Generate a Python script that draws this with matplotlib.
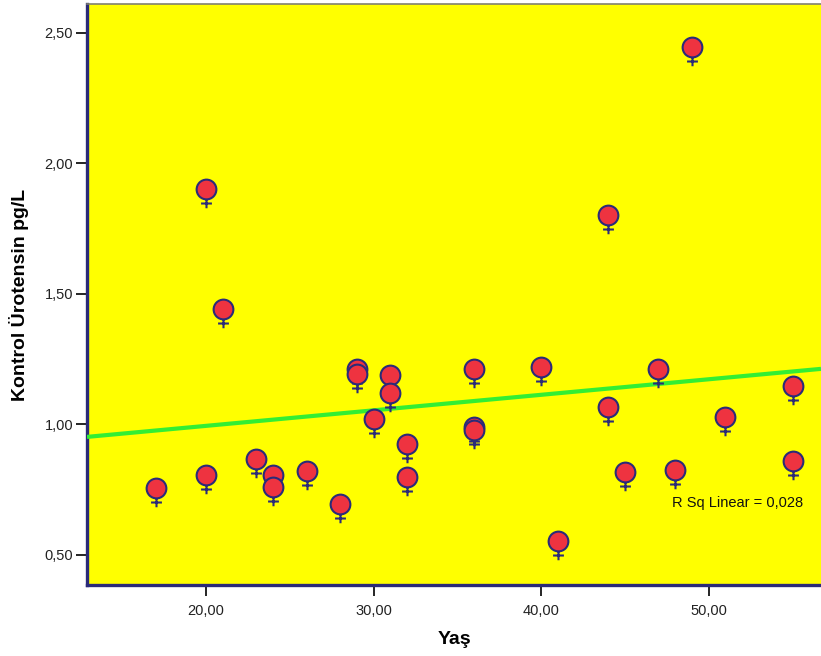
import numpy as np
import matplotlib
matplotlib.use("Agg")
import matplotlib.pyplot as plt
from matplotlib.path import Path
from matplotlib.ticker import FuncFormatter

plt.rcParams['font.family'] = ['Liberation Sans', 'DejaVu Sans']

# Yaş (age) and Kontrol Ürotensin pg/L
yas = [17, 20, 20, 21, 23, 24, 24, 26, 28, 29, 29, 30, 31, 31, 32, 32,
       36, 36, 36, 40, 41, 44, 44, 45, 47, 48, 49, 51, 55, 55]
urotensin = [0.757, 1.902, 0.806, 1.443, 0.868, 0.806, 0.760, 0.822, 0.695, 1.212, 1.192,
             1.021, 1.190, 1.121, 0.925, 0.797, 1.213, 0.990, 0.980, 1.220, 0.554,
             1.803, 1.067, 0.818, 1.213, 0.826, 2.446, 1.029, 1.147, 0.860]
r_sq_text = "R Sq Linear = 0,028"

navy = '#2b2b78'

# female symbol: circle with a small cross underneath
circ = Path.unit_circle()
verts = list(circ.vertices) + [(0, -1.0), (0, -1.9), (-0.55, -1.42), (0.55, -1.42)]
codes = list(circ.codes) + [Path.MOVETO, Path.LINETO, Path.MOVETO, Path.LINETO]
female = Path(verts, codes)

fig = plt.figure(figsize=(8.21, 6.56), dpi=100)
ax = fig.add_axes([87 / 821, 1 - 585 / 656, 1 - 87 / 821, (585 - 4) / 656])
ax.set_facecolor('#ffff00')

ax.set_xlim(12.9, 56.7)
ax.set_ylim(0.385, 2.611)

# linear fit
k, b = np.polyfit(yas, urotensin, 1)
xs = np.array(ax.get_xlim())
ax.plot(xs, k * xs + b, color='#33ee33', lw=3, zorder=3, solid_capstyle='butt')

ax.plot(yas, urotensin, linestyle='none', marker=female, markersize=27,
        markerfacecolor='#ee3340', markeredgecolor=navy, markeredgewidth=1.5, zorder=4)

ax.text(0.886, 0.141, r_sq_text, transform=ax.transAxes, ha='center', va='center',
        fontsize=10.5, color='#111111')

ax.set_xticks([20, 30, 40, 50])
ax.set_yticks([0.5, 1.0, 1.5, 2.0, 2.5])
fmt = FuncFormatter(lambda v, p: f"{v:.2f}".replace('.', ','))
ax.xaxis.set_major_formatter(fmt)
ax.yaxis.set_major_formatter(fmt)
ax.tick_params(axis='both', direction='out', length=8, width=1.2, color='black',
               labelsize=10.5, labelcolor='#222222', pad=2)
ax.tick_params(axis='x', pad=6)

for s in ['left', 'bottom']:
    ax.spines[s].set_color(navy)
    ax.spines[s].set_linewidth(2.4)
ax.spines['top'].set_color('#808070')
ax.spines['top'].set_linewidth(1.2)
ax.spines['right'].set_visible(False)

ax.set_xlabel('Yaş', fontsize=14, fontweight='bold', labelpad=9)
ax.set_ylabel('Kontrol Ürotensin pg/L', fontsize=14, fontweight='bold', labelpad=11)

fig.savefig('out.png', dpi=100)
